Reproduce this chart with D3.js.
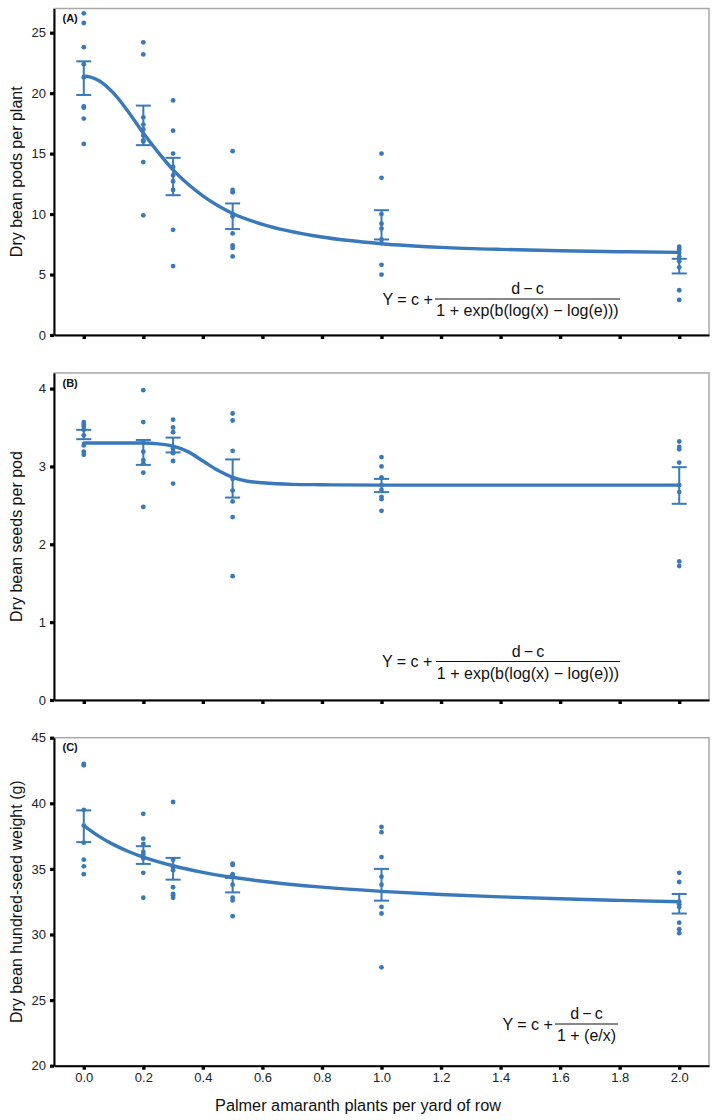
<!DOCTYPE html>
<html><head><meta charset="utf-8">
<script src="https://cdn.jsdelivr.net/npm/d3@7"></script>
<style>
html,body{margin:0;padding:0;background:#fff;}
svg{display:block;font-family:"Liberation Sans",Arial,Helvetica,sans-serif;}
</style></head><body>
<svg id="chart" width="720" height="1120"></svg>
<script>
// ---------------- DATA ----------------
const densities = [0, 0.2, 0.3, 0.5, 1.0, 2.0];
const xTickValues = [0, 0.2, 0.4, 0.6, 0.8, 1.0, 1.2, 1.4, 1.6, 1.8, 2.0];

// (A) Dry bean pods per plant
const podsTicks = [0, 5, 10, 15, 20, 25];
const podsObs = [
  [26.6, 25.8, 23.8, 22.4, 21.3, 18.9, 18.8, 17.9, 15.8],
  [24.2, 23.2, 18.0, 17.4, 17.0, 16.5, 16.1, 16.0, 14.3, 9.9],
  [19.4, 16.9, 15.0, 13.9, 13.2, 12.7, 12.0, 8.7, 5.7],
  [15.2, 12.0, 11.8, 10.0, 9.8, 8.4, 7.4, 7.2, 6.5],
  [15.0, 13.0, 10.0, 9.2, 8.8, 7.9, 7.6, 5.8, 5.0],
  [7.3, 7.1, 6.8, 6.5, 6.1, 5.6, 3.7, 2.9]
];
const podsSE = [[19.85, 22.63], [15.7, 18.97], [11.56, 14.65], [8.76, 10.88], [7.9, 10.32], [5.09, 6.3]];
const podsCurveX = [0, 0.02, 0.05, 0.1, 0.15, 0.2, 0.25, 0.3, 0.4, 0.5, 0.6, 0.8, 1.0, 1.2, 1.4, 1.6, 1.8, 2.0];
const podsCurveY = [21.4, 21.35, 21.05, 20.0, 18.45, 16.7, 15.1, 13.65, 11.5, 10.05, 9.15, 8.1, 7.55, 7.25, 7.08, 6.97, 6.89, 6.83];

// (B) Dry bean seeds per pod
const seedsTicks = [0, 1, 2, 3, 4];
const seedsObs = [
  [3.57, 3.54, 3.51, 3.47, 3.40, 3.27, 3.19, 3.15],
  [3.98, 3.57, 3.30, 3.19, 3.08, 3.04, 2.92, 2.48],
  [3.60, 3.50, 3.44, 3.23, 3.19, 3.17, 3.07, 2.78],
  [3.68, 3.59, 3.20, 2.84, 2.69, 2.55, 2.35, 1.59],
  [3.12, 3.00, 2.86, 2.76, 2.70, 2.61, 2.58, 2.43],
  [3.32, 3.25, 3.22, 3.05, 2.76, 2.67, 1.78, 1.72]
];
const seedsSE = [[3.35, 3.47], [3.02, 3.34], [3.18, 3.37], [2.60, 3.09], [2.67, 2.84], [2.52, 2.99]];
const seedsCurveX = [0, 0.1, 0.2, 0.25, 0.3, 0.35, 0.4, 0.45, 0.5, 0.55, 0.6, 0.7, 0.8, 1.0, 1.5, 2.0];
const seedsCurveY = [3.30, 3.30, 3.30, 3.29, 3.26, 3.19, 3.07, 2.95, 2.86, 2.81, 2.79, 2.77, 2.765, 2.76, 2.76, 2.76];

// (C) Dry bean hundred-seed weight (g)
const weightTicks = [20, 25, 30, 35, 40, 45];
const weightObs = [
  [43.0, 42.9, 39.5, 38.3, 37.0, 35.7, 35.2, 34.6],
  [39.2, 37.3, 36.9, 36.3, 36.1, 35.8, 34.7, 32.8],
  [40.1, 35.7, 35.1, 34.9, 33.6, 33.1, 33.0, 32.8],
  [35.4, 35.3, 34.6, 34.4, 33.8, 32.8, 32.6, 31.4],
  [38.2, 37.8, 35.9, 34.4, 33.8, 32.1, 31.6, 27.5],
  [34.7, 34.0, 32.5, 32.3, 32.1, 30.9, 30.4, 30.1]
];
const weightSE = [[37.04, 39.46], [35.38, 36.73], [34.18, 35.84], [33.21, 34.31], [32.58, 35.0], [31.6, 33.09]];
const weightCurveX = [0, 0.05, 0.1, 0.15, 0.2, 0.3, 0.4, 0.5, 0.6, 0.8, 1.0, 1.2, 1.4, 1.6, 1.8, 2.0];
const weightCurveY = [38.3, 37.5, 36.85, 36.33, 35.9, 35.24, 34.74, 34.36, 34.06, 33.61, 33.29, 33.05, 32.87, 32.72, 32.6, 32.5];

const xTitle = "Palmer amaranth plants per yard of row";

// ---------------- DRAW ----------------
const svg = d3.select("#chart");
const BLUE = "#3a79b9";
const FONT = "'Liberation Sans', Arial, Helvetica, sans-serif";
const x = d3.scaleLinear().domain([-0.1, 2.1]).range([54, 709]);

function drawFormula(g, opt) {
  g.append("text").attr("x", opt.lhsX).attr("y", opt.midY).attr("dy", "0.36em")
    .attr("font-size", 16).attr("fill", "#111").text("Y = c +");
  g.append("line").attr("x1", opt.fracX0).attr("x2", opt.fracX1)
    .attr("y1", opt.midY).attr("y2", opt.midY).attr("stroke", "#111").attr("stroke-width", 1);
  const cx = (opt.fracX0 + opt.fracX1) / 2;
  g.append("text").attr("x", cx).attr("y", opt.midY - 5).attr("text-anchor", "middle")
    .attr("font-size", 16).attr("fill", "#111").text("d\u2009\u2212\u2009c");
  g.append("text").attr("x", cx).attr("y", opt.midY + 17).attr("text-anchor", "middle")
    .attr("font-size", 16).attr("fill", "#111").text(opt.den);
}

function drawPanel(cfg) {
  const y = d3.scaleLinear().domain(cfg.domain).range([cfg.bottom, cfg.top]);
  const g = svg.append("g");

  g.append("rect").attr("x", x.range()[0]).attr("y", cfg.top)
    .attr("width", x.range()[1] - x.range()[0]).attr("height", cfg.bottom - cfg.top)
    .attr("fill", "none").attr("stroke", "#a8a8a8").attr("stroke-width", 1.5);

  densities.forEach((d, i) => {
    g.selectAll(null).data(cfg.obs[i]).join("circle")
      .attr("cx", x(d)).attr("cy", v => y(v)).attr("r", 2.4).attr("fill", BLUE);
  });

  const eb = g.append("g").attr("stroke", BLUE).attr("stroke-width", 2).attr("fill", "none");
  densities.forEach((d, i) => {
    const [lo, hi] = cfg.se[i];
    eb.append("line").attr("x1", x(d)).attr("x2", x(d)).attr("y1", y(lo)).attr("y2", y(hi));
    eb.append("line").attr("x1", x(d) - 7.5).attr("x2", x(d) + 7.5).attr("y1", y(lo)).attr("y2", y(lo));
    eb.append("line").attr("x1", x(d) - 7.5).attr("x2", x(d) + 7.5).attr("y1", y(hi)).attr("y2", y(hi));
  });

  const pts = cfg.curveX.map((cx, i) => [cx, cfg.curveY[i]]);
  g.append("path").datum(pts)
    .attr("d", d3.line().x(p => x(p[0])).y(p => y(p[1])).curve(d3.curveMonotoneX))
    .attr("fill", "none").attr("stroke", BLUE).attr("stroke-width", 3.4)
    .attr("stroke-linecap", "round");

  const ya = g.append("g").attr("transform", `translate(${x.range()[0]},0)`)
    .call(d3.axisLeft(y).tickValues(cfg.ticks).tickFormat(d3.format("d"))
      .tickSize(4).tickSizeOuter(0).tickPadding(4));
  ya.select(".domain").attr("stroke", "#000").attr("stroke-width", 2);
  ya.selectAll(".tick line").attr("stroke", "#000").attr("stroke-width", 3.2);
  ya.selectAll(".tick text").attr("font-size", 13).attr("font-family", FONT).attr("fill", "#222");

  const xaGen = d3.axisBottom(x).tickValues(xTickValues).tickSize(4).tickSizeOuter(0).tickPadding(3)
    .tickFormat(cfg.showX ? d3.format(".1f") : () => "");
  const xa = g.append("g").attr("transform", `translate(0,${cfg.bottom})`).call(xaGen);
  xa.select(".domain").attr("stroke", "#000").attr("stroke-width", 2);
  xa.selectAll(".tick line").attr("stroke", "#000").attr("stroke-width", 3.4);
  xa.selectAll(".tick text").attr("font-size", 13).attr("font-family", FONT).attr("fill", "#222");

  g.append("text").attr("x", 62.5).attr("y", cfg.top + 13.5)
    .attr("font-size", 11).attr("font-weight", "bold").attr("fill", "#111").text(cfg.label);

  g.append("text")
    .attr("transform", `translate(16,${(cfg.top + cfg.bottom) / 2}) rotate(-90)`)
    .attr("text-anchor", "middle").attr("dy", "0.36em")
    .attr("font-size", 16).attr("fill", "#111").text(cfg.title);

  drawFormula(g, cfg.formula);
}

const logisticDen = "1 + exp(b(log(x) \u2212 log(e)))";

drawPanel({
  top: 8.5, bottom: 335, domain: [0, 27], ticks: podsTicks,
  obs: podsObs, se: podsSE, curveX: podsCurveX, curveY: podsCurveY,
  label: "(A)", title: "Dry bean pods per plant", showX: false,
  formula: { lhsX: 382.5, midY: 299, fracX0: 435, fracX1: 620, den: logisticDen }
});
drawPanel({
  top: 373, bottom: 700, domain: [0, 4.2], ticks: seedsTicks,
  obs: seedsObs, se: seedsSE, curveX: seedsCurveX, curveY: seedsCurveY,
  label: "(B)", title: "Dry bean seeds per pod", showX: false,
  formula: { lhsX: 382, midY: 661.5, fracX0: 436, fracX1: 620, den: logisticDen }
});
drawPanel({
  top: 737.7, bottom: 1065.7, domain: [20, 45], ticks: weightTicks,
  obs: weightObs, se: weightSE, curveX: weightCurveX, curveY: weightCurveY,
  label: "(C)", title: "Dry bean hundred-seed weight (g)", showX: true,
  formula: { lhsX: 502.5, midY: 1024, fracX0: 555, fracX1: 618, den: "1 + (e/x)" }
});

svg.append("text").attr("x", 358).attr("y", 1111).attr("text-anchor", "middle")
  .attr("font-size", 16.3).attr("fill", "#111").text(xTitle);
</script>
</body></html>
